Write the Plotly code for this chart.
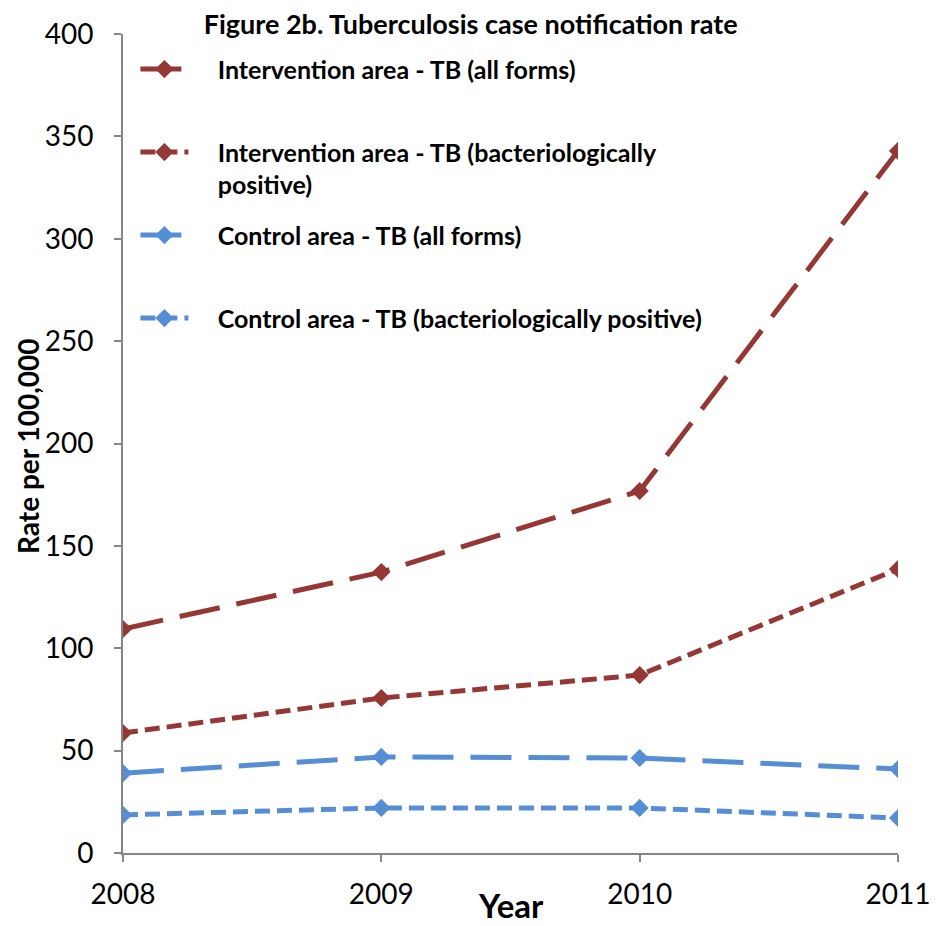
import plotly.graph_objects as go

years = [2008, 2009, 2010, 2011]
int_all = [109.4, 137.2, 176.8, 342.9]
int_bact = [58.6, 75.7, 86.9, 138.7]
ctl_all = [39.0, 46.9, 46.4, 41.0]
ctl_bact = [18.6, 22.0, 22.0, 17.1]

PAD = "&nbsp;&nbsp;&nbsp;&nbsp;"
names = [
    PAD + "Intervention area - TB (all forms)<br>&nbsp;",
    PAD + "Intervention area - TB (bacteriologically<br>" + PAD + "positive)",
    PAD + "Control area - TB (all forms)<br>&nbsp;",
    PAD + "Control area - TB (bacteriologically positive)<br>&nbsp;",
]
RED = "#953735"
BLUE = "#558ED5"
LONG = "41px,17px"
SHORT = "15px,7px"

series = [
    (int_all, names[0], RED, LONG),
    (int_bact, names[1], RED, SHORT),
    (ctl_all, names[2], BLUE, LONG),
    (ctl_bact, names[3], BLUE, SHORT),
]

FONT = "Lato"
fig = go.Figure()
for i, (vals, nm, col, dash) in enumerate(series):
    fig.add_trace(go.Scatter(
        x=years, y=vals, name=nm, mode="lines+markers",
        legendgroup=f"g{i}",
        line=dict(color=col, width=5, dash=dash),
        marker=dict(symbol="diamond", size=14, color=col),
    ))

axis_col = "#868686"
fig.update_layout(
    width=950, height=926,
    margin=dict(l=115, r=60, t=26, b=81),
    paper_bgcolor="white", plot_bgcolor="white",
    font=dict(family=FONT, color="black"),
    title=dict(text="<b>Figure 2b. Tuberculosis case notification rate</b>",
               x=0.487, xanchor="center", y=0.982, yanchor="middle",
               font=dict(size=27, family=FONT, color="black")),
    showlegend=True,
    legend=dict(x=0.016, y=0.985, xanchor="left", yanchor="top",
                bgcolor="rgba(0,0,0,0)", valign="top",
                font=dict(size=25, family=FONT, color="black", weight="bold"),
                tracegroupgap=15, itemwidth=48, traceorder="grouped"),
    xaxis=dict(range=[2008, 2011], tickvals=years, ticktext=[str(y) for y in years],
               showgrid=False, zeroline=False, showline=True, linecolor=axis_col,
               linewidth=2, ticks="outside", tickcolor=axis_col, ticklen=7, tickwidth=2,
               tickfont=dict(size=28, family=FONT), ticklabelstandoff=8,
               automargin=False),
    yaxis=dict(range=[0, 400], dtick=50, showgrid=False, zeroline=False,
               showline=True, linecolor=axis_col, linewidth=2, ticks="outside",
               tickcolor=axis_col, ticklen=7, tickwidth=2,
               tickfont=dict(size=28, family=FONT), ticklabelstandoff=15,
               automargin=False),
    annotations=[
        dict(text="<b>Year</b>", xref="paper", yref="paper", x=0.5006, y=-0.063,
             xanchor="center", yanchor="middle", showarrow=False,
             font=dict(size=33, family=FONT, color="black")),
        dict(text="<b>Rate per 100,000</b>", xref="paper", yref="paper", x=-0.1226, y=0.497,
             xanchor="center", yanchor="middle", showarrow=False, textangle=-90,
             font=dict(size=28, family=FONT, color="black")),
    ],
)

fig.write_html("out.html")
